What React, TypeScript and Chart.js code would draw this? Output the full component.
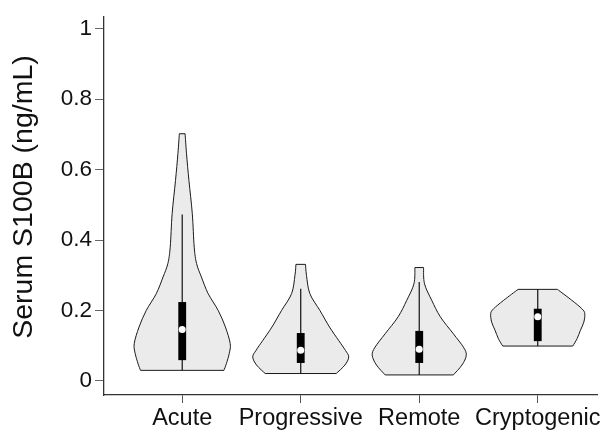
import { useEffect, useRef } from "react";
import { Chart, registerables } from "chart.js";

Chart.register(...registerables);

const categories = ["Acute", "Progressive", "Remote", "Cryptogenic"];
const yTickValues = [0, 0.2, 0.4, 0.6, 0.8, 1];
const yTickLabels = ["0", "0.2", "0.4", "0.6", "0.8", "1"];
const yAxisTitle = "Serum S100B (ng/mL)";

// Violin outlines: y values (bottom -> top) with relative density (1 = widest)
const acuteY = [0.03, 0.049, 0.078, 0.106, 0.153, 0.2, 0.248, 0.295, 0.333, 0.38, 0.475, 0.569, 0.645, 0.702];
const acuteDensity = [0.87, 0.92, 0.98, 1.0, 0.9, 0.75, 0.54, 0.4, 0.3, 0.25, 0.21, 0.14, 0.09, 0.06];
const progressiveY = [0.021, 0.045, 0.068, 0.087, 0.115, 0.153, 0.2, 0.248, 0.3, 0.331];
const progressiveDensity = [0.74, 0.92, 1.0, 0.93, 0.79, 0.6, 0.4, 0.19, 0.12, 0.1];
const remoteY = [0.017, 0.045, 0.073, 0.096, 0.134, 0.182, 0.229, 0.276, 0.322];
const remoteDensity = [0.71, 0.89, 0.98, 0.92, 0.71, 0.44, 0.26, 0.11, 0.09];
const cryptogenicY = [0.099, 0.12, 0.144, 0.167, 0.191, 0.205, 0.229, 0.26];
const cryptogenicDensity = [0.73, 0.82, 0.89, 0.96, 0.98, 0.92, 0.71, 0.41];

// Box summary per category
const whiskerLow = [0.03, 0.021, 0.017, 0.099];
const q1 = [0.059, 0.051, 0.051, 0.113];
const medians = [0.146, 0.087, 0.09, 0.182];
const q3 = [0.224, 0.136, 0.142, 0.205];
const whiskerHigh = [0.473, 0.262, 0.281, 0.26];

const violins = [
  { ys: acuteY, d: acuteDensity },
  { ys: progressiveY, d: progressiveDensity },
  { ys: remoteY, d: remoteDensity },
  { ys: cryptogenicY, d: cryptogenicDensity },
];

const VIOLIN_HALF_WIDTH = 0.405; // in category units
const BOX_HALF_WIDTH = 0.033;
const FONT = "'Liberation Sans', Arial, sans-serif";

type P = { x: number; y: number };

function curveThrough(ctx: CanvasRenderingContext2D, pts: P[]) {
  for (let i = 0; i < pts.length - 1; i++) {
    const p0 = pts[Math.max(0, i - 1)];
    const p1 = pts[i];
    const p2 = pts[i + 1];
    const p3 = pts[Math.min(pts.length - 1, i + 2)];
    const c1x = p1.x + (p2.x - p0.x) / 6;
    const c1y = p1.y + (p2.y - p0.y) / 6;
    const c2x = p2.x - (p3.x - p1.x) / 6;
    const c2y = p2.y - (p3.y - p1.y) / 6;
    ctx.bezierCurveTo(c1x, c1y, c2x, c2y, p2.x, p2.y);
  }
}

const violinPlugin = {
  id: "violins",
  beforeDatasetsDraw(chart: any) {
    const { ctx } = chart;
    const x = chart.scales.x;
    const y = chart.scales.y;
    ctx.save();
    violins.forEach((v, i) => {
      const left: P[] = v.ys.map((val, k) => ({
        x: x.getPixelForValue(i - v.d[k] * VIOLIN_HALF_WIDTH),
        y: y.getPixelForValue(val),
      }));
      const right: P[] = v.ys
        .map((val, k) => ({
          x: x.getPixelForValue(i + v.d[k] * VIOLIN_HALF_WIDTH),
          y: y.getPixelForValue(val),
        }))
        .reverse();
      ctx.beginPath();
      ctx.moveTo(left[0].x, left[0].y);
      curveThrough(ctx, left);
      ctx.lineTo(right[0].x, right[0].y);
      curveThrough(ctx, right);
      ctx.closePath();
      ctx.fillStyle = "#ebebeb";
      ctx.fill();
      ctx.lineWidth = 1;
      ctx.strokeStyle = "#1a1a1a";
      ctx.stroke();

      // whisker
      const cx = x.getPixelForValue(i);
      ctx.beginPath();
      ctx.moveTo(cx, y.getPixelForValue(whiskerLow[i]));
      ctx.lineTo(cx, y.getPixelForValue(whiskerHigh[i]));
      ctx.lineWidth = 1.2;
      ctx.strokeStyle = "#111";
      ctx.stroke();

      // box
      const bl = x.getPixelForValue(i - BOX_HALF_WIDTH);
      const br = x.getPixelForValue(i + BOX_HALF_WIDTH);
      const bt = y.getPixelForValue(q3[i]);
      const bb = y.getPixelForValue(q1[i]);
      ctx.fillStyle = "#000";
      ctx.fillRect(bl, bt, br - bl, bb - bt);
    });
    ctx.restore();
  },
  afterDraw(chart: any) {
    const { ctx } = chart;
    ctx.save();
    ctx.translate(24, 197);
    ctx.rotate(-Math.PI / 2);
    ctx.textAlign = "center";
    ctx.textBaseline = "middle";
    ctx.fillStyle = "#111";
    ctx.font = `28.5px ${FONT}`;
    ctx.fillText(yAxisTitle, 0, 0);
    ctx.restore();
  },
};

export default function App() {
  const ref = useRef<HTMLCanvasElement | null>(null);
  useEffect(() => {
    if (!ref.current) return;
    const chart = new Chart(ref.current, {
      type: "scatter",
      data: {
        datasets: [
          {
            data: medians.map((m, i) => ({ x: i, y: m })),
            pointRadius: 3.5,
            pointHoverRadius: 3.5,
            pointBackgroundColor: "#ffffff",
            pointBorderWidth: 0,
            showLine: false,
          },
        ],
      },
      options: {
        animation: false,
        responsive: false,
        devicePixelRatio: 1,
        events: [],
        layout: { padding: { top: 16, right: 16, left: 0, bottom: 0 } },
        plugins: { legend: { display: false }, tooltip: { enabled: false } },
        scales: {
          x: {
            type: "linear",
            min: -0.66,
            max: 3.5,
            afterBuildTicks: (s: any) => {
              s.ticks = categories.map((_, i) => ({ value: i }));
            },
            afterFit: (s: any) => {
              s.height = 39;
            },
            ticks: {
              autoSkip: false,
              maxRotation: 0,
              padding: 1,
              color: "#111",
              font: { family: FONT, size: 23.5 },
              callback: (_v: any, idx: number) => categories[idx],
            },
            grid: {
              drawOnChartArea: false,
              drawTicks: true,
              tickLength: 8,
              tickColor: "#555",
              tickWidth: 1,
            },
            border: { display: true, color: "#333", width: 1.3 },
          },
          y: {
            type: "linear",
            min: -0.04,
            max: 1.035,
            afterBuildTicks: (s: any) => {
              s.ticks = yTickValues.map((v) => ({ value: v }));
            },
            afterFit: (s: any) => {
              s.width = 104;
            },
            ticks: {
              padding: 3,
              color: "#111",
              font: { family: FONT, size: 22.5 },
              callback: (_v: any, idx: number) => yTickLabels[idx],
            },
            grid: {
              drawOnChartArea: false,
              drawTicks: true,
              tickLength: 9,
              tickColor: "#666",
              tickWidth: 1,
            },
            border: { display: true, color: "#333", width: 1.3 },
          },
        },
      },
      plugins: [violinPlugin],
    });
    return () => chart.destroy();
  }, []);
  return (
    <div style={{ position: "absolute", left: 0, top: 0, width: 613, height: 434, background: "#fff" }}>
      <canvas ref={ref} width={613} height={434} style={{ display: "block" }} />
    </div>
  );
}
